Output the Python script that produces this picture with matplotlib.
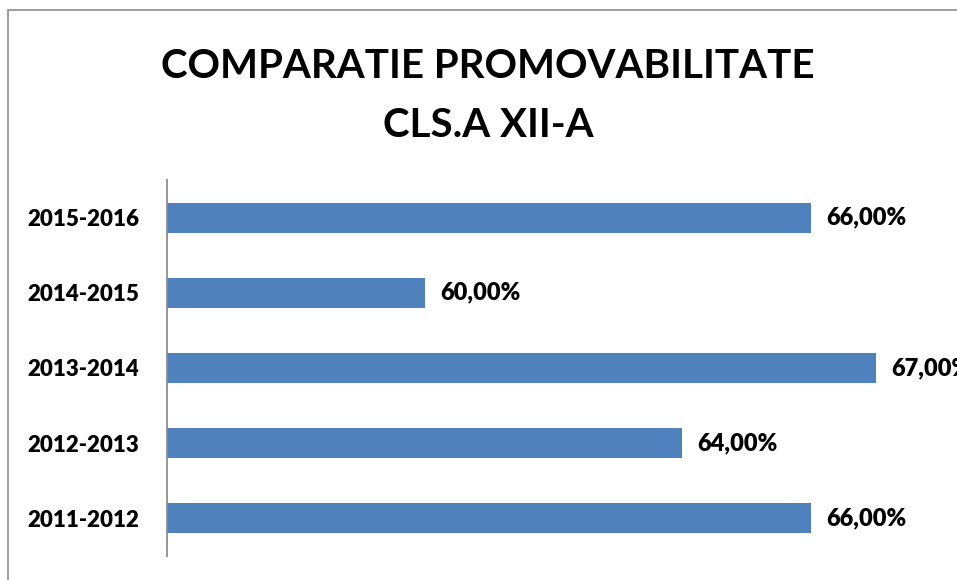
import matplotlib.pyplot as plt
from matplotlib.patches import Rectangle

years = ['2011-2012', '2012-2013', '2013-2014', '2014-2015', '2015-2016']
rates = [66.0, 64.0, 67.0, 60.0, 66.0]
value_labels = ['66,00%', '64,00%', '67,00%', '60,00%', '66,00%']

plt.rcParams['font.family'] = ['Lato', 'DejaVu Sans']

W, H = 957, 580
fig = plt.figure(figsize=(W / 100, H / 100), dpi=100)
fig.patch.set_facecolor('white')

# chart frame (only top/left visible in the crop)
fig.patches.append(Rectangle((8 / W, -0.1), 1.2, (H - 10) / H + 0.1,
                             transform=fig.transFigure, fill=False,
                             edgecolor='#8c8c8c', linewidth=1.2))

ax = fig.add_axes([167 / W, (H - 556) / H, (940 - 167) / W, (556 - 180) / H])
ax.barh(range(len(years)), rates, height=0.4, color='#4f81bd', left=0)
ax.set_xlim(56, 68)
ax.set_ylim(-0.5, len(years) - 0.5)

for i, (v, lab) in enumerate(zip(rates, value_labels)):
  ax.annotate(lab, (v, i), xytext=(11, 0), textcoords='offset points',
              ha='left', va='center', fontsize=17, fontweight='heavy',
              annotation_clip=False, clip_on=False)

ax.set_yticks(range(len(years)))
ax.set_yticklabels(years, fontsize=16, fontweight='heavy')
ax.tick_params(axis='y', length=0, pad=20)
ax.set_xticks([])
for s in ['top', 'right', 'bottom']:
  ax.spines[s].set_visible(False)
ax.spines['left'].set_color('#8c8c8c')
ax.spines['left'].set_linewidth(1.3)

fig.text(488 / W, 1 - 96 / H, 'COMPARATIE PROMOVABILITATE\nCLS.A XII-A',
         ha='center', va='center', fontsize=29, fontweight='bold',
         linespacing=1.72)

fig.savefig('out.png', dpi=100)
